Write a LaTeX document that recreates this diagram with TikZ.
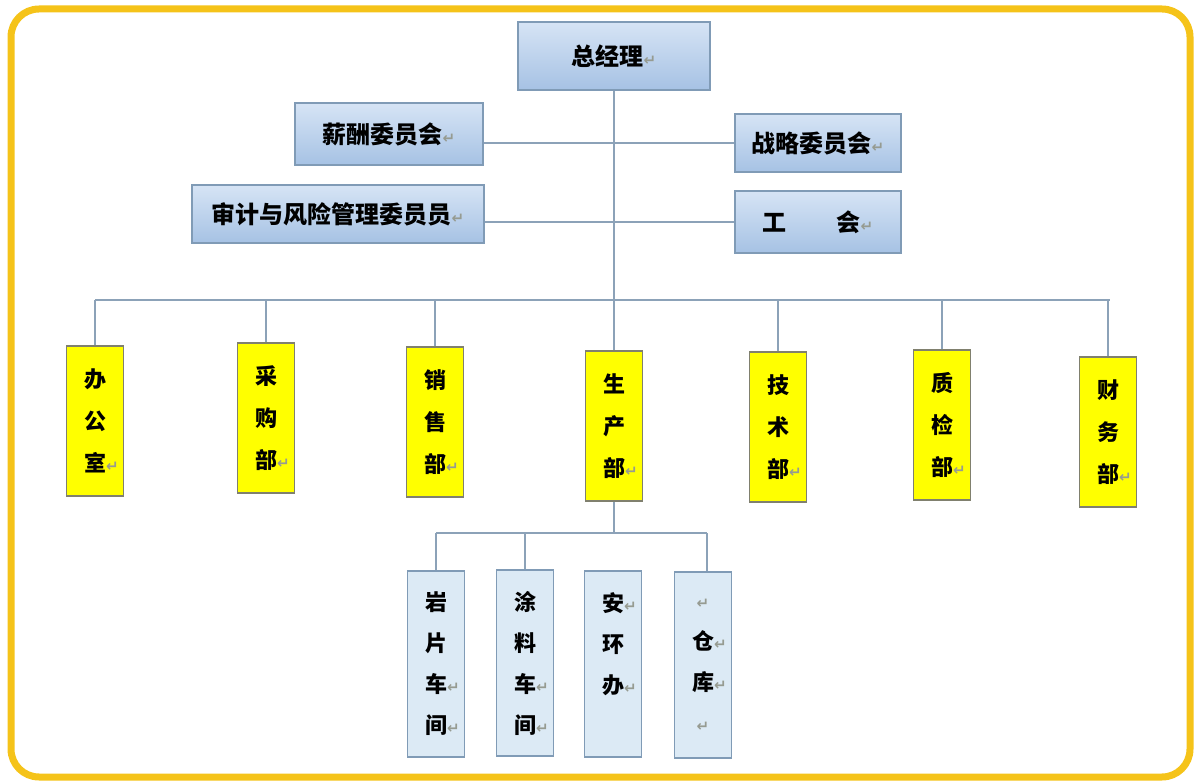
\documentclass[tikz,border=0pt]{standalone}
\usepackage{fontspec}
\newfontfamily\cjk{Noto Sans CJK SC}
\newfontfamily\markfont{DejaVu Sans}
\definecolor{FrameGold}{RGB}{245, 195, 25}
\definecolor{BoxEdge}{RGB}{128, 155, 182}
\definecolor{BlueTop}{RGB}{214, 228, 245}
\definecolor{BlueBot}{RGB}{166, 194, 228}
\definecolor{DeptYellow}{RGB}{255, 255, 0}
\definecolor{DeptEdge}{RGB}{128, 128, 110}
\definecolor{SubBlue}{RGB}{220, 234, 245}
\definecolor{LinkGray}{RGB}{140, 162, 184}
\definecolor{MarkGray}{RGB}{150, 155, 145}
\usetikzlibrary{calc}

% paragraph mark as printed after the texts
\newcommand{\pmark}{{\markfont\fontsize{15}{15}\selectfont\color{MarkGray}\symbol{"21B5}}}
\newcommand{\rpmark}{\rlap{\pmark}}

\begin{document}
\begin{tikzpicture}[x=1pt, y=-1pt,
    headbox/.style={draw=BoxEdge, line width=1.2, top color=BlueTop, bottom color=BlueBot,
        inner sep=0, font=\cjk\bfseries\fontsize{24}{28}\selectfont},
    deptbox/.style={draw=DeptEdge, line width=1.2, fill=DeptYellow, inner sep=0,
        minimum width=57, minimum height=150, align=center,
        font=\cjk\bfseries\fontsize{22}{42}\selectfont},
    subbox/.style={draw=BoxEdge, line width=1.2, fill=SubBlue, inner sep=0,
        minimum width=57, minimum height=186, align=center,
        font=\cjk\bfseries\fontsize{22}{41}\selectfont},
    link/.style={draw=LinkGray, line width=1.5}]
    \useasboundingbox (0,0) rectangle (1200,783);

    % Frame
    \draw[FrameGold, line width=7, rounded corners=28] (11,9) rectangle (1190,777);

    % Top
    \node[headbox, minimum width=192, minimum height=68] (gm) at (614,56) {总经理\pmark};

    % Committees
    \node[headbox, minimum width=188, minimum height=62] (salary) at (389,134) {薪酬委员会\pmark};
    \node[headbox, minimum width=166, minimum height=58] (strategy) at (818,143) {战略委员会\pmark};
    \node[headbox, minimum width=292, minimum height=58] (audit) at (338,214) {审计与风险管理委员员\pmark};
    \node[headbox, minimum width=166, minimum height=62] (union) at (818,222) {工\hspace{50pt}会\pmark};

    \draw[link] (strategy.west) -- (strategy.west -| salary.east);
    \draw[link] (union.west) -- (union.west -| audit.east);

    % Departments
    \node[deptbox] (office) at (95,421) {办\\公\\室\rpmark};
    \node[deptbox] (purchase) at (266,418) {采\\购\\部\rpmark};
    \node[deptbox] (sales) at (435,422) {销\\售\\部\rpmark};
    \node[deptbox] (prod) at (614,426) {生\\产\\部\rpmark};
    \node[deptbox] (tech) at (778,427) {技\\术\\部\rpmark};
    \node[deptbox] (qc) at (942,425) {质\\检\\部\rpmark};
    \node[deptbox] (finance) at (1108,432) {财\\务\\部\rpmark};

    \coordinate (busL) at (95,300);
    \coordinate (busR) at (1110,300);
    \draw[link] (gm.south) -- (prod.north);
    \draw[link] (busL) -- (busR);
    \foreach \d in {office, purchase, sales, tech, qc, finance}
        \draw[link] (\d.north) -- (\d.north |- busL);

    % Workshops under production
    \node[subbox] (rock) at (436,664) {岩\\片\\车\rpmark\\间\rpmark};
    \node[subbox] (paint) at (525,663) {涂\\料\\车\rpmark\\间\rpmark};
    \node[subbox] (safety) at (613,664) {安\rpmark\\环\\办\rpmark\\\mbox{}};
    \node[subbox] (store) at (703,665) {\pmark\\仓\rpmark\\库\rpmark\\\pmark};

    \coordinate (subL) at (436,533);
    \coordinate (subR) at (707,533);
    \draw[link] (prod.south) -- (prod.south |- subL);
    \draw[link] (subL) -- (subR);
    \draw[link] (rock.north) -- (rock.north |- subL);
    \draw[link] (paint.north) -- (paint.north |- subL);
    \draw[link] (subR) -- (subR |- store.north);
\end{tikzpicture}
\end{document}
